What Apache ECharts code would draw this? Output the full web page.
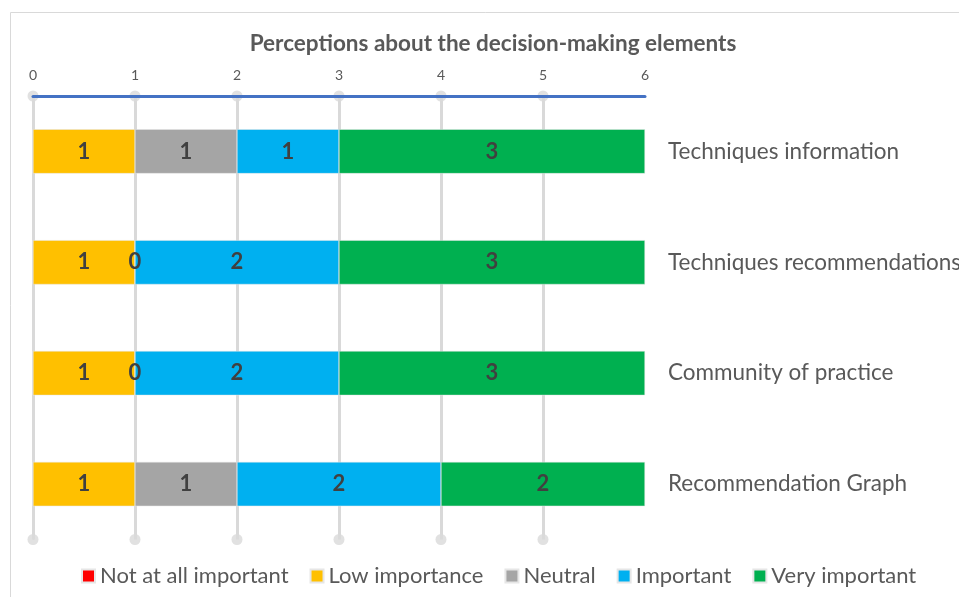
<!DOCTYPE html>
<html>
<head>
<meta charset="utf-8">
<script src="https://cdn.jsdelivr.net/npm/echarts@6/dist/echarts.min.js"></script>
<style>
  html, body { margin: 0; padding: 0; background: #fff; }
  #chart { width: 959px; height: 597px; }
</style>
</head>
<body>
<div id="chart"></div>
<script>
// 数据
var categories = ['Techniques information', 'Techniques recommendations', 'Community of practice', 'Recommendation Graph'];
var notAtAll = [0, 0, 0, 0];
var lowImportance = [1, 1, 1, 1];
var neutral = [1, 0, 0, 1];
var important = [1, 2, 2, 2];
var veryImportant = [3, 3, 3, 2];
var xTicks = [0, 1, 2, 3, 4, 5, 6];

var FONT = 'Lato';
var TEXT = '#595959';

function barSeries(name, values, color, showLabel) {
    return {
        name: name,
        type: 'bar',
        stack: 'total',
        yAxisIndex: 0,
        barWidth: '40%',
        z: 2,
        itemStyle: { color: color, borderColor: '#e6e6e6', borderWidth: 0.5 },
        label: {
            show: showLabel,
            position: 'inside',
            fontFamily: FONT,
            fontSize: 22,
            fontWeight: 'bold',
            color: '#404040'
        },
        data: values
    };
}

// 网格线端点的小圆点
var dots = [];
var gridLines = [];
for (var i = 0; i < xTicks.length - 1; i++) {
    dots.push([xTicks[i], 0]);
    dots.push([xTicks[i], 1]);
    gridLines.push({ xAxis: xTicks[i] });
}

var myChart = echarts.init(document.getElementById('chart'));
var option = {
    animation: false,
    title: {
        text: 'Perceptions about the decision-making elements',
        left: 488,
        textAlign: 'center',
        top: 27,
        textStyle: { fontFamily: FONT, fontSize: 22.5, fontWeight: 'bold', color: TEXT }
    },
    graphic: [{
        type: 'rect',
        shape: { x: 10.5, y: 12.5, width: 1000, height: 700 },
        style: { fill: 'none', stroke: '#d9d9d9', lineWidth: 1 },
        silent: true
    }],
    legend: {
        bottom: 5,
        left: 76,
        itemWidth: 13,
        itemHeight: 13,
        itemGap: 21,
        icon: 'rect',
        textStyle: { fontFamily: FONT, fontSize: 22, color: TEXT },
        data: ['Not at all important', 'Low importance', 'Neutral', 'Important', 'Very important']
    },
    grid: { left: 33, right: 314, top: 96, bottom: 57.5, containLabel: false, outerBoundsMode: 'none' },
    xAxis: {
        type: 'value',
        position: 'top',
        min: 0,
        max: 6,
        interval: 1,
        z: 5,
        axisLine: { show: true, lineStyle: { color: '#4472c4', width: 3 } },
        axisTick: { show: false },
        splitLine: { show: false },
        axisLabel: { fontFamily: FONT, fontSize: 14, color: TEXT, margin: 14 }
    },
    yAxis: [{
        type: 'category',
        position: 'right',
        inverse: true,
        data: categories,
        axisLine: { show: true, lineStyle: { color: '#d9d9d9', width: 1 } },
        axisTick: { show: false },
        axisLabel: { fontFamily: FONT, fontSize: 22.5, color: TEXT, margin: 23 }
    }, {
        type: 'value',
        min: 0,
        max: 1,
        inverse: true,
        show: false
    }],
    series: [
        {
            type: 'scatter',
            yAxisIndex: 1,
            z: 1,
            symbolSize: 11,
            itemStyle: { color: '#d9d9d9' },
            silent: true,
            data: dots,
            markLine: {
                silent: true,
                symbol: 'none',
                z: 1,
                label: { show: false },
                lineStyle: { color: '#d9d9d9', width: 3, type: 'solid' },
                data: gridLines
            }
        },
        barSeries('Not at all important', notAtAll, '#ff0000', false),
        barSeries('Low importance', lowImportance, '#ffc000', true),
        barSeries('Neutral', neutral, '#a5a5a5', true),
        barSeries('Important', important, '#00b0f0', true),
        barSeries('Very important', veryImportant, '#00b050', true)
    ]
};
myChart.setOption(option);
window.onresize = myChart.resize;
</script>
</body>
</html>
